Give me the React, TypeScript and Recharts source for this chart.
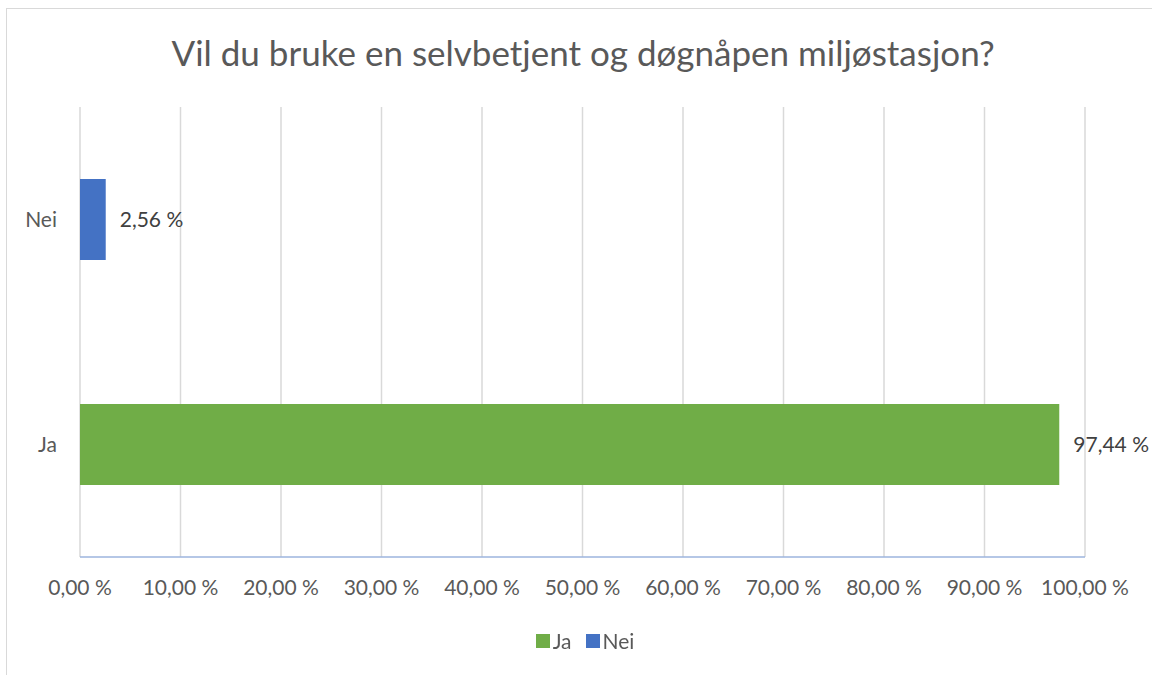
import { BarChart, Bar, XAxis, YAxis, CartesianGrid, Legend, LabelList, Cell } from "recharts";

const categories = ["Nei", "Ja"];
const values = [2.56, 97.44];
const colors = ["#4472C4", "#70AD47"];
const xTicks = [0, 10, 20, 30, 40, 50, 60, 70, 80, 90, 100];
const legendItems = ["Ja", "Nei"];
const legendColors = ["#70AD47", "#4472C4"];

const fmt = (v: number) => v.toFixed(2).replace(".", ",") + " %";
const font = "Lato, 'Open Sans', sans-serif";

function LegendBox() {
  return (
    <div style={{ display: "flex", justifyContent: "center", gap: 14, fontFamily: font, fontSize: 21, color: "#595959", lineHeight: "24px" }}>
      {legendItems.map((name, i) => (
        <span key={name} style={{ display: "flex", alignItems: "center", gap: 3 }}>
          <span style={{ width: 14, height: 14, background: legendColors[i], display: "inline-block" }} />
          {name}
        </span>
      ))}
    </div>
  );
}

export default function App() {
  const chartData = categories.map((name, i) => ({ name, value: values[i] }));

  return (
    <div style={{ position: "fixed", left: 0, top: 0, width: 1152, height: 675, background: "#fff" }}>
      <div
        style={{
          position: "absolute",
          left: 6,
          top: 8,
          right: -2,
          bottom: -2,
          borderLeft: "1.5px solid #d9d9d9",
          borderTop: "1.5px solid #d9d9d9",
        }}
      />
      <div
        style={{
          position: "absolute",
          left: 0,
          width: 1166,
          top: 30,
          textAlign: "center",
          fontFamily: font,
          fontSize: 35,
          lineHeight: "44px",
          color: "#595959",
        }}
      >
        Vil du bruke en selvbetjent og døgnåpen miljøstasjon?
      </div>
      <div style={{ position: "absolute", left: 0, top: 0 }}>
        <BarChart
          width={1152}
          height={675}
          data={chartData}
          layout="vertical"
          margin={{ top: 107, right: 67, bottom: 0, left: 0 }}
          barSize={81}
        >
          <CartesianGrid vertical horizontal={false} stroke="#d9d9d9" strokeWidth={1.5} />
          <XAxis
            type="number"
            domain={[0, 100]}
            ticks={xTicks}
            tickFormatter={fmt}
            axisLine={{ stroke: "#9db4de", strokeWidth: 1.5 }}
            tickLine={false}
            tickSize={0}
            tickMargin={23}
            height={94}
            tick={{ fill: "#595959", fontSize: 21, fontFamily: font }}
          />
          <YAxis
            type="category"
            dataKey="name"
            width={80}
            axisLine={false}
            tickLine={false}
            tickSize={0}
            tickMargin={23}
            tick={{ fill: "#595959", fontSize: 21, fontFamily: font }}
          />
          <Legend
            verticalAlign="bottom"
            wrapperStyle={{ top: 629, left: 0, width: 1170 }}
            content={() => <LegendBox />}
          />
          <Bar dataKey="value" isAnimationActive={false}>
            {chartData.map((d, i) => (
              <Cell key={d.name} fill={colors[i]} />
            ))}
            <LabelList
              dataKey="value"
              position="right"
              offset={14}
              formatter={(v: any) => fmt(Number(v))}
              style={{ fill: "#404040", fontSize: 21, fontFamily: font }}
            />
          </Bar>
        </BarChart>
      </div>
    </div>
  );
}
